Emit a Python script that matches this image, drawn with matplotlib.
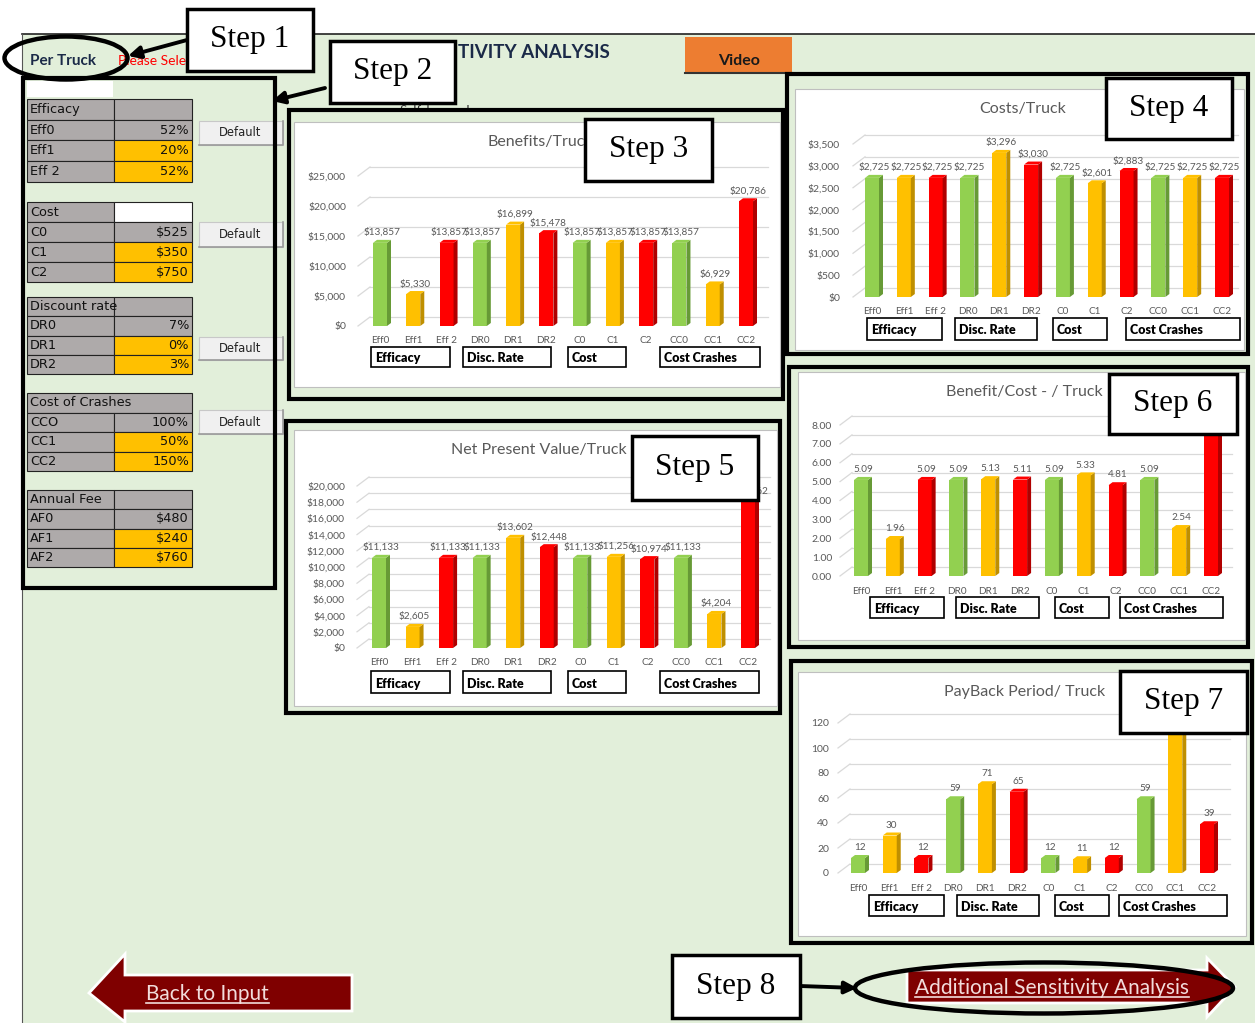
import matplotlib
matplotlib.use("Agg")
import matplotlib.pyplot as plt
import matplotlib.transforms as mtransforms
from matplotlib.patches import Rectangle, Ellipse, Polygon

W, H = 1255, 1023

# --- data ---
categories = ["Eff0", "Eff1", "Eff 2", "DR0", "DR1", "DR2", "C0", "C1", "C2", "CC0", "CC1", "CC2"]
groups = ["Efficacy", "Disc. Rate", "Cost", "Cost Crashes"]
benefits = [13857, 5330, 13857, 13857, 16899, 15478, 13857, 13857, 13857, 13857, 6929, 20786]
costs = [2725, 2725, 2725, 2725, 3296, 3030, 2725, 2601, 2883, 2725, 2725, 2725]
npv = [11133, 2605, 11133, 11133, 13602, 12448, 11133, 11256, 10974, 11133, 4204, 18062]
bc_ratio = [5.09, 1.96, 5.09, 5.09, 5.13, 5.11, 5.09, 5.33, 4.81, 5.09, 2.54, 7.63]
payback = [12, 30, 12, 59, 71, 65, 12, 11, 12, 59, 118, 39]

eff_labels = ["Eff0", "Eff1", "Eff 2"]
eff_values = ["52%", "20%", "52%"]
cost_labels = ["C0", "C1", "C2"]
cost_values = ["$525", "$350", "$750"]
dr_labels = ["DR0", "DR1", "DR2"]
dr_values = ["7%", "0%", "3%"]
cc_labels = ["CCO", "CC1", "CC2"]
cc_values = ["100%", "50%", "150%"]
af_labels = ["AF0", "AF1", "AF2"]
af_values = ["$480", "$240", "$760"]

BG_GREEN = "#E2EFDA"
GRAY_TXT = "#595959"
TAB_GRAY = "#AEAAAA"
YEL = "#FFC000"
FACE = {"g": "#92D050", "y": "#FFC000", "r": "#FF0000"}
SIDE = {"g": "#679A36", "y": "#BF8F00", "r": "#B00000"}
bar_keys = ["g", "y", "r"] * 4

fig = plt.figure(figsize=(W / 100, H / 100), dpi=100)
bg = fig.add_axes([0, 0, 1, 1], zorder=0)
bg.set_xlim(0, W)
bg.set_ylim(H, 0)
bg.axis("off")
top = fig.add_axes([0, 0, 1, 1], zorder=20)
top.set_xlim(0, W)
top.set_ylim(H, 0)
top.axis("off")
top.patch.set_visible(False)


def rect(ax, x0, y0, x1, y1, **kw):
    ax.add_patch(Rectangle((x0, y0), x1 - x0, y1 - y0, **kw))


# --- sheet background ---
rect(bg, 22, 34, W, H, fc=BG_GREEN, ec="none", zorder=0)
bg.plot([22, W], [34, 34], color="#222222", lw=1.2, zorder=1)
bg.plot([22, 22], [34, H], color="#555555", lw=0.8, zorder=1)

bg.text(30, 61, "Per Truck", fontsize=11, fontweight="bold", color="#1B2A48",
        family="Lato", va="center", zorder=1)
bg.text(118, 61, "Please Select Insurance Policy", fontsize=10, color="red",
        family="Lato", va="center", zorder=1)
# title: left part sits behind the Step 2 call-out
bg.text(455, 52, "SENSI", fontsize=13.5, fontweight="bold", color="#1B2A48",
        family="Lato", ha="right", va="center", zorder=1)
bg.text(458, 52, "TIVITY ANALYSIS", fontsize=13.5, fontweight="bold", color="#1B2A48",
        family="Lato", ha="left", va="center", zorder=1)
bg.text(435, 111, "Self-Insured", fontsize=9.5, color="#333333", family="Lato",
        ha="center", va="center", zorder=1)

rect(bg, 685, 37, 792, 73, fc="#ED7D31", ec="none", zorder=1)
bg.plot([685, 792], [73, 73], color="#333333", lw=1.5, zorder=1)
bg.text(739, 61, "Video", fontsize=11.5, fontweight="bold", color="#1A1A1A",
        family="Lato", ha="center", va="center", zorder=2)

# --- input tables on the left ---
rect(bg, 27, 81, 113, 97, fc="white", ec="none", zorder=2)


def draw_table(y_top, rh, header, labels, values, head_fill=TAB_GRAY, merged=False):
    xl0, xl1, xv1 = 27, 114, 192
    if merged:
        rect(bg, xl0, y_top, xv1, y_top + rh, fc=TAB_GRAY, ec="#222222", lw=0.8, zorder=2)
    else:
        rect(bg, xl0, y_top, xl1, y_top + rh, fc=TAB_GRAY, ec="#222222", lw=0.8, zorder=2)
        rect(bg, xl1, y_top, xv1, y_top + rh, fc=head_fill, ec="#222222", lw=0.8, zorder=2)
    bg.text(xl0 + 3, y_top + rh / 2, header, fontsize=9.3, color="#111111",
            family="DejaVu Sans", va="center", zorder=3)
    for j, (lab, val) in enumerate(zip(labels, values)):
        y = y_top + rh * (j + 1)
        rect(bg, xl0, y, xl1, y + rh, fc=TAB_GRAY, ec="#222222", lw=0.8, zorder=2)
        rect(bg, xl1, y, xv1, y + rh, fc=TAB_GRAY if j == 0 else YEL, ec="#222222", lw=0.8, zorder=2)
        bg.text(xl0 + 3, y + rh / 2, lab, fontsize=9.3, color="#111111",
                family="DejaVu Sans", va="center", zorder=3)
        bg.text(xv1 - 3, y + rh / 2, val, fontsize=9.3, color="#111111",
                family="DejaVu Sans", va="center", ha="right", zorder=3)


draw_table(99, 20.7, "Efficacy", eff_labels, eff_values)
draw_table(202, 20, "Cost", cost_labels, cost_values, head_fill="white")
draw_table(297, 19.3, "Discount rate", dr_labels, dr_values)
draw_table(393, 19.5, "Cost of Crashes", cc_labels, cc_values, merged=True)
draw_table(490, 19.3, "Annual Fee", af_labels, af_values)

for by0, by1 in [(121, 145), (222, 247), (337, 360), (410, 434)]:
    rect(bg, 199, by0, 283, by1, fc="#F0F0F0", ec="#C8C8C8", lw=0.8, zorder=2)
    bg.plot([199, 283, 283], [by1, by1, by0], color="#9A9A9A", lw=1.2, zorder=2)
    bg.text(240, (by0 + by1) / 2, "Default", fontsize=8.3, color="#222222",
            family="DejaVu Sans", ha="center", va="center", zorder=3)

rect(bg, 23, 78, 275, 588, fc="none", ec="black", lw=3, zorder=6)


# --- bar charts ---
def draw_chart(values, title, fmt, ticks, tickfmt, frame, area, cx, yy, gx,
               ylab, cat_y, box_y, boxes):
    rect(bg, *frame, fc=BG_GREEN, ec="black", lw=3, zorder=2)
    rect(bg, *area, fc="white", ec="#BFBFBF", lw=0.8, zorder=3)
    bg.text((area[0] + area[2]) / 2 + 3, area[1] + 20, title, ha="center", va="center",
            fontsize=11.5, color=GRAY_TXT, family="Lato", zorder=4)
    c0, c_last = cx
    y0, yt = yy
    gl, gr = gx
    ymax = ticks[-1]
    sp = (c_last - c0) / (len(values) - 1)
    py = (y0 - yt) / ymax
    ax = fig.add_axes([gl / W, 1 - y0 / H, (gr - gl) / W, (y0 - yt) / H], zorder=5)
    ax.set_xlim((gl - c0) / sp, (gr - c0) / sp)
    ax.set_ylim(0, ymax)
    ax.patch.set_visible(False)
    for s in ax.spines.values():
        s.set_visible(False)

    # back-wall gridlines with the little perspective step on the left
    off = mtransforms.offset_copy(ax.transData, fig=fig, x=12, y=9, units="dots")
    x_lo, x_hi = ax.get_xlim()
    for t in ticks:
        ax.plot([x_lo, x_lo + 12 / sp], [t, t + 9 / py], color="#D9D9D9", lw=0.9,
                clip_on=False, zorder=1)
        ax.plot([x_lo, x_hi - 12 / sp], [t, t], color="#D9D9D9", lw=0.9,
                transform=off, clip_on=False, zorder=1)

    w = 14 / sp
    dx = 4 / sp
    dy = 3 / py
    for i, (v, k) in enumerate(zip(values, bar_keys)):
        ax.bar(i, v, width=w, color=FACE[k], zorder=3, clip_on=False)
        ax.add_patch(Polygon([(i + w / 2, 0), (i + w / 2 + dx, dy), (i + w / 2 + dx, v + dy),
                              (i + w / 2, v)], closed=True, fc=SIDE[k], ec="none",
                             zorder=3, clip_on=False))
        ax.add_patch(Polygon([(i - w / 2, v), (i - w / 2 + dx, v + dy), (i + w / 2 + dx, v + dy),
                              (i + w / 2, v)], closed=True, fc=FACE[k], ec="none",
                             zorder=3, clip_on=False))
        ax.annotate(fmt(v), (i + dx / 2, v + dy), xytext=(0, 2), textcoords="offset points",
                    ha="center", va="bottom", fontsize=7.2, color=GRAY_TXT, family="Lato")

    ax.set_yticks(ticks)
    ax.set_yticklabels([tickfmt(t) for t in ticks])
    ax.set_xticks(range(len(values)))
    ax.set_xticklabels(categories)
    ax.tick_params(axis="y", length=0, pad=(gl - ylab) * 0.72, labelsize=7.5, labelcolor=GRAY_TXT)
    ax.tick_params(axis="x", length=0, pad=(cat_y - 5 - y0) * 0.72, labelsize=7.2, labelcolor=GRAY_TXT)
    for lab in ax.get_xticklabels() + ax.get_yticklabels():
        lab.set_family("Lato")

    for name, (bx0, bx1) in zip(groups, boxes):
        rect(bg, bx0, box_y[0], bx1, box_y[1], fc="white", ec="black", lw=1.2, zorder=4)
        bg.text(bx0 + 4, (box_y[0] + box_y[1]) / 2 + 1.5, name, ha="left", va="center",
                fontsize=9, fontweight="heavy", family="Lato", color="black", zorder=5)
    return ax


def dollars(v):
    return f"${v:,.0f}"


draw_chart(benefits, "Benefits/Truck", dollars, list(range(0, 25001, 5000)), dollars,
           (289, 110, 783, 399), (294, 122, 780, 387), (380, 746), (326, 176), (358, 768),
           346, 341, (347, 367), [(371, 450), (463, 551), (568, 626), (660, 760)])
draw_chart(costs, "Costs/Truck", dollars, list(range(0, 3501, 500)), dollars,
           (787, 74, 1248, 354), (795, 89, 1244, 350), (872, 1222), (297, 144), (853, 1238),
           840, 312, (318, 340), [(867, 942), (955, 1037), (1053, 1107), (1126, 1240)])
draw_chart(npv, "Net Present Value/Truck", dollars, list(range(0, 20001, 2000)), dollars,
           (286, 421, 780, 713), (294, 430, 777, 706), (379, 748), (648, 486), (357, 770),
           345, 663, (671, 693), [(371, 450), (463, 551), (568, 626), (660, 759)])
draw_chart(bc_ratio, "Benefit/Cost - / Truck", lambda v: f"{v:.2f}", list(range(0, 9)),
           lambda t: f"{t:.2f}",
           (789, 367, 1248, 647), (798, 372, 1245, 640), (861, 1211), (576, 425), (840, 1232),
           832, 592, (597, 618), [(870, 944), (956, 1039), (1055, 1109), (1120, 1223)])
draw_chart(payback, "PayBack Period/ Truck", lambda v: f"{v:.0f}", list(range(0, 121, 20)),
           lambda t: f"{t:d}",
           (791, 661, 1252, 943), (798, 672, 1246, 936), (858, 1207), (873, 723), (838, 1230),
           829, 889, (895, 916), [(869, 944), (957, 1039), (1055, 1109), (1119, 1227)])

# --- navigation buttons ---
bg.add_patch(Polygon([(89, 993), (125, 954), (125, 975), (352, 975), (352, 1011),
                      (125, 1011), (125, 1022)], closed=True, fc="#7F0000", ec="white",
                     lw=2, zorder=2))
back_txt = bg.text(146, 994, "Back to Input", fontsize=15, color="#F2DCDB", family="Lato",
                   va="center", ha="left", zorder=3)
bg.add_patch(Polygon([(907, 970), (1207, 970), (1207, 958), (1235, 987), (1207, 1017),
                      (1207, 1003), (907, 1003)], closed=True, fc="#7F0000", ec="white",
                     lw=2, zorder=2))
add_txt = bg.text(915, 988, "Additional Sensitivity Analysis", fontsize=15, color="#F2DCDB",
                  family="Lato", va="center", ha="left", zorder=3)

# --- step call-outs ---
steps = [("Step 1", (187, 9, 313, 71)), ("Step 2", (330, 41, 455, 103)),
         ("Step 3", (585, 119, 712, 181)), ("Step 4", (1106, 78, 1232, 139)),
         ("Step 5", (632, 436, 758, 500)), ("Step 6", (1109, 374, 1237, 434)),
         ("Step 7", (1120, 671, 1247, 733)), ("Step 8", (672, 955, 800, 1018))]
for label, (sx0, sy0, sx1, sy1) in steps:
    rect(top, sx0, sy0, sx1, sy1, fc="white", ec="black", lw=2.5, zorder=3)
    top.text((sx0 + sx1) / 2, (sy0 + sy1) / 2, label, fontsize=22.5, family="Liberation Serif",
             ha="center", va="center", zorder=4)

top.add_patch(Ellipse((66, 58), 123, 43, fc="none", ec="black", lw=3.2, zorder=2))
top.add_patch(Ellipse((1044, 988), 378, 51, fc="none", ec="black", lw=3.2, zorder=2))

arrow_kw = dict(arrowstyle="-|>", lw=2.8, color="black", mutation_scale=18,
                shrinkA=0, shrinkB=0)
top.annotate("", xy=(128, 56), xytext=(187, 40), arrowprops=arrow_kw, zorder=2)
top.annotate("", xy=(272, 101), xytext=(325, 88), arrowprops=arrow_kw, zorder=2)
top.annotate("", xy=(857, 988), xytext=(800, 986), arrowprops=arrow_kw, zorder=2)

# underline the hyperlink texts
fig.canvas.draw()
inv = bg.transData.inverted()
for t in (back_txt, add_txt):
    bb = t.get_window_extent()
    (ux0, uy0), (ux1, uy1) = inv.transform([[bb.x0, bb.y0], [bb.x1, bb.y1]])
    bg.plot([ux0, ux1], [uy0 - 1, uy0 - 1], color="#F2DCDB", lw=1.2, zorder=3)

fig.savefig("out.png", dpi=100)
